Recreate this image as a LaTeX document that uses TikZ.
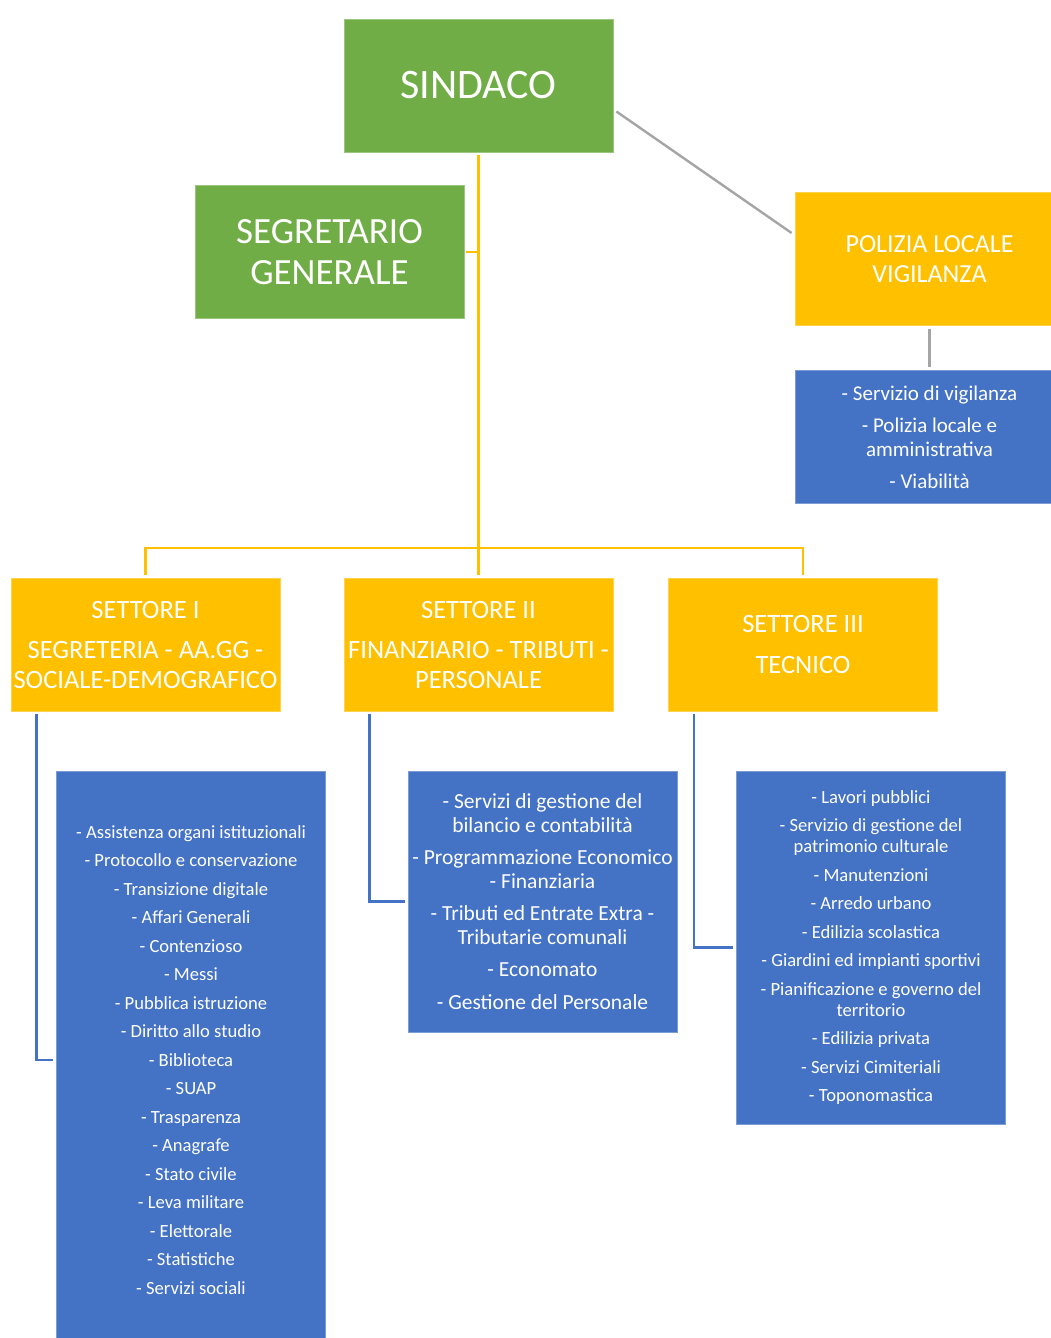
\documentclass[tikz,border=0pt]{standalone}
\usepackage{fontspec}
\setmainfont{Carlito}
\usepackage{tikz}

\definecolor{verde}{HTML}{70AD47}
\definecolor{giallo}{HTML}{FFC000}
\definecolor{blu}{HTML}{4472C4}
\definecolor{grigio}{HTML}{A5A5A5}

\tikzset{
  box/.style={minimum width=269, minimum height=133, inner sep=0pt,
              align=center, text=white},
  gbox/.style={box, fill=verde, draw=verde!70!white, line width=0.8pt},
  ybox/.style={box, fill=giallo, draw=giallo!70!white, line width=0.8pt},
  bbox/.style={box, fill=blu, draw=blu!70!white, line width=0.8pt},
  sbox/.style={ybox, font=\fontsize{26.5}{30}\selectfont},
  yline/.style={draw=giallo, line width=2.6pt},
  bline/.style={draw=blu, line width=2.4pt},
  gline/.style={draw=grigio, line width=2.4pt}
}

\begin{document}
\begin{tikzpicture}[x=1pt,y=-1pt]

\useasboundingbox (0,0) rectangle (1050,1338);

% vertice
\node[gbox, font=\fontsize{42}{50}\selectfont] (sind) at (478.5,85.5) {SINDACO};
\node[gbox, font=\fontsize{37}{41}\selectfont] (segr) at (329.5,252) {SEGRETARIO\\GENERALE};
\node[ybox, font=\fontsize{26}{30}\selectfont] (pol) at (929.5,259) {POLIZIA LOCALE\\VIGILANZA};
\node[bbox, font=\fontsize{21}{24}\selectfont] (polb) at (929.5,437)
  {- Servizio di vigilanza\\[8pt]- Polizia locale e\\amministrativa\\[8pt]- Viabilità};

% settori
\node[sbox] (s1) at (145.5,644.5)
  {SETTORE I\\[10pt]SEGRETERIA - AA.GG -\\SOCIALE-DEMOGRAFICO};
\node[sbox] (s2) at (478.5,644.5)
  {SETTORE II\\[10pt]FINANZIARIO - TRIBUTI -\\PERSONALE};
\node[sbox] (s3) at (803,644.5)
  {SETTORE III\\[11pt]TECNICO};

% servizi
\node[bbox, minimum height=578, font=\fontsize{18.6}{28.5}\selectfont] (b1) at (191,1060)
  {- Assistenza organi istituzionali\\- Protocollo e conservazione\\- Transizione digitale\\
   - Affari Generali\\- Contenzioso\\- Messi\\- Pubblica istruzione\\- Diritto allo studio\\
   - Biblioteca\\- SUAP\\- Trasparenza\\- Anagrafe\\- Stato civile\\- Leva militare\\
   - Elettorale\\- Statistiche\\- Servizi sociali};
\node[bbox, minimum height=261, font=\fontsize{21.5}{24}\selectfont] (b2) at (542.5,901.5)
  {- Servizi di gestione del\\bilancio e contabilità\\[8pt]- Programmazione Economico\\- Finanziaria\\[8pt]
   - Tributi ed Entrate Extra -\\Tributarie comunali\\[8pt]- Economato\\[9pt]- Gestione del Personale};
\node[bbox, minimum height=353, font=\fontsize{18.6}{21}\selectfont] (b3) at (871,947.5)
  {- Lavori pubblici\\[7.5pt]- Servizio di gestione del\\patrimonio culturale\\[7.5pt]- Manutenzioni\\[7.5pt]
   - Arredo urbano\\[7.5pt]- Edilizia scolastica\\[7.5pt]- Giardini ed impianti sportivi\\[7.5pt]
   - Pianificazione e governo del\\territorio\\[7.5pt]- Edilizia privata\\[7.5pt]
   - Servizi Cimiteriali\\[7.5pt]- Toponomastica};

\coordinate (bus) at (478.5,548);

% collegamenti
\draw[yline] ([yshift=-3pt]sind.south) -- ([yshift=3pt]s2.north);
\draw[yline] ([xshift=2pt]segr.east) -- (segr.east -| sind.south);
\draw[yline] ([yshift=3pt]s1.north) |- (bus) -| ([yshift=3pt]s3.north);
\draw[gline] ([shift={(3,26)}]sind.east) -- ([shift={(-3,-26)}]pol.west);
\draw[gline] ([yshift=-3pt]pol.south) -- ([yshift=3pt]polb.north);

\foreach \i in {1,2,3}
    \draw[bline] ([xshift=26pt,yshift=-3pt]s\i.south west) |- ([xshift=-3pt]b\i.west);

\end{tikzpicture}
\end{document}
